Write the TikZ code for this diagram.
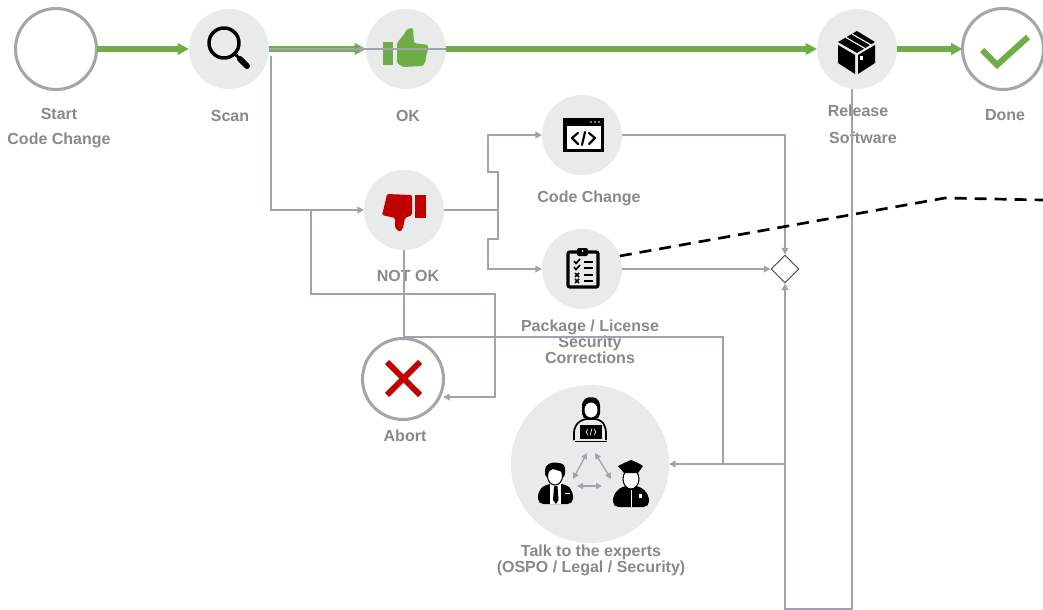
\documentclass[tikz,border=0pt]{standalone}
\usepackage{fontspec}
\setmainfont{Liberation Sans}
\usetikzlibrary{arrows.meta, positioning, calc, shapes.geometric}
\definecolor{green1}{HTML}{70AD47}
\definecolor{red1}{HTML}{C00000}
\definecolor{gray1}{HTML}{9EA3B0}
\definecolor{ring1}{HTML}{A6A6A6}
\definecolor{disc1}{HTML}{E9EBEA}
\definecolor{label1}{HTML}{898989}
\tikzset{
  disc/.style={circle, fill=disc1, inner sep=0pt, outer sep=0pt, minimum size=80*0.75pt},
  ring/.style={circle, draw=ring1, line width=2.3pt, fill=white, inner sep=0pt, outer sep=0pt, minimum size=81*0.75pt},
  caption/.style={text=label1, font=\fontsize{12}{12}\selectfont\bfseries, align=center, inner sep=0pt},
  greenline/.style={green1, line width=4pt, -{Triangle[length=8.5pt, width=8.5pt]}},
  grayline/.style={gray1, line width=1.5pt},
  grayarrow/.style={grayline, -{Triangle[length=5pt, width=5pt]}},
  talkarrow/.style={gray1, line width=1pt, {Triangle[length=4.5pt, width=4.5pt]}-{Triangle[length=4.5pt, width=4.5pt]}},
  iconline/.style={line width=1.6pt, line cap=round, line join=round}
}
\begin{document}
\begin{tikzpicture}[x=0.75pt, y=-0.75pt]
  \useasboundingbox (0,0) rectangle (1043,610);

  % stations
  \node[ring] (start) at (56,49) {};
  \node[disc] (scan) at (229,49) {};
  \node[disc] (ok) at (406,49) {};
  \node[disc] (release) at (857,49) {};
  \node[ring] (done) at (1003,49) {};
  \node[disc] (notok) at (404,210) {};
  \node[disc] (codefix) at (582,135) {};
  \node[disc] (package) at (582,269) {};
  \node[ring] (abort) at (403,379) {};
  \node[disc, minimum size=158*0.75pt] (experts) at (590,464) {};
  \node[diamond, draw=black!75, line width=0.7pt, fill=white, inner sep=0pt, minimum size=28*0.75pt] (merge) at (785,269) {};

  % labels
  \node[caption] (startlabel) at (59,128) {Start\\[6.75pt]Code Change};
  \node[caption] (scanlabel) at (230,116) {Scan};
  \node[caption] (oklabel) at (408,116) {OK};
  \node[caption] (releaselabel) at (858,111) {Release};
  \node[caption] (softwarelabel) at (863,138) {Software};
  \node[caption] (donelabel) at (1005,115) {Done};
  \node[caption] (codelabel) at (589,198) {Code Change};
  \node[caption] (notoklabel) at (408,276) {NOT OK};
  \node[caption] (packagelabel) at (590,342) {Package / License\\Security\\Corrections};
  \node[caption] (abortlabel) at (405,436) {Abort};
  \node[caption] (expertslabel) at (591,560) {Talk to the experts\\(OSPO / Legal / Security)};

  % icons
  \draw[line width=2.6pt] (224,43) circle (15);
  \draw[line width=2.2pt] (235,54) -- (240,59);
  \draw[line width=4.5pt, line cap=round] (240,59) -- (247,66);

  \fill[green1] (383,42) rectangle (393,65);
  \fill[green1, rounded corners=1pt] (397,43) -- (405,33) -- (407,29) -- (413,28) -- (414,43) -- (428,45) -- (428,50) -- (426,56) -- (426,60) -- (423,66) -- (403,67) -- (397,63) -- cycle;

  \fill[red1] (415,195) rectangle (426,218);
  \fill[red1, rounded corners=1pt] (412,195) -- (387,194) -- (385,203) -- (382,215) -- (395,218) -- (395,228) -- (400,232) -- (403,228) -- (405,218) -- (412,215) -- cycle;

  \fill (838,42) -- (857,31) -- (875,42) -- (857,53) -- cycle;
  \fill (838,45) -- (855,55) -- (855,74) -- (838,63) -- cycle;
  \fill (858,55) -- (875,45) -- (875,63) -- (858,74) -- cycle;
  \draw[white, line width=0.8pt] (846,37.5) -- (865,48.5) (852,34) -- (871,45);
  \fill[white] (860,56) rectangle (863,60);

  \draw[green1, line width=4.5pt] (982,50) -- (997,65) -- (1028,37);
  \draw[red1, line width=4.5pt] (387,362) -- (420,395) (420,362) -- (387,395);

  \fill (563,118) rectangle (604,152);
  \fill[white] (567,126) rectangle (601,149);
  \fill[white] (591,122) circle (0.9) (595,122) circle (0.9) (599,122) circle (0.9);
  \draw[iconline] (578,133) -- (572,138) -- (578,144) (589,133) -- (595,138) -- (589,144) (585,132) -- (582,145);

  \draw[line width=2.4pt, rounded corners=1.5pt] (568,252) rectangle (598,287);
  \fill[rounded corners=1.5pt] (577,248) rectangle (588,256);
  \fill[white] (582.5,251) circle (1);
  \draw[line width=1.7pt] (584,262) -- (593,262) (584,268) -- (593,268) (584,275) -- (593,275) (584,281) -- (593,281);
  \draw[line width=1.2pt] (574,261) -- (576,263.5) -- (580,259) (574,267) -- (576,269.5) -- (580,265);
  \draw[line width=1.2pt] (575,273) -- (579,277) (579,273) -- (575,277) (575,279) -- (579,283) (579,279) -- (575,283);

  % developer
  \fill[rounded corners=4pt] (582,419) -- (582,400) -- (591,396) -- (600,400) -- (600,419) -- cycle;
  \fill[white] (591,410) ellipse (6.5 and 7.5);
  \draw[line width=1.3pt, rounded corners=4pt] (574,440) -- (574,427) -- (582,419) -- (600,419) -- (606,427) -- (606,440);
  \fill (580,425) rectangle (602,439);
  \draw[white, line width=0.5pt] (588,429) -- (586,432) -- (588,435) (594,429) -- (596,432) -- (594,435) (592,428.5) -- (590,435.5);
  \draw[line width=1pt] (575,441.5) -- (607,441.5);

  % lawyer
  \fill[rounded corners=4pt] (538,504) -- (538,491) -- (546,484) -- (566,484) -- (573,491) -- (573,504) -- cycle;
  \fill[white] (550,484) -- (561,484) -- (561,504) -- (550,504) -- cycle;
  \fill (554,486) -- (557.5,486) -- (558.5,500) -- (556,504) -- (553,500) -- cycle;
  \fill[white] (565,493) rectangle (570,494);
  \fill[rounded corners=3pt] (545,478) -- (545,466) -- (552,462) -- (565,464) -- (565,478) -- cycle;
  \draw[fill=white, line width=0.8pt] (555,476) ellipse (7.5 and 9);
  \fill (547,472) -- (550,465) -- (562,465) -- (563,472) -- (553,469) -- cycle;

  % officer
  \fill[rounded corners=4pt] (613,507) -- (613,495) -- (622,486) -- (640,486) -- (649,495) -- (649,507) -- cycle;
  \draw[white, line width=0.6pt] (631,490) -- (631,507);
  \fill[white] (639,494) rectangle (642,498);
  \draw[fill=white, line width=0.8pt] (631,479) ellipse (8 and 10);
  \fill (618,466) -- (624,463) -- (631,460) -- (638,463) -- (643,466) -- (638,473) -- (624,473) -- cycle;

  \draw[talkarrow] (587,453) -- (573,479);
  \draw[talkarrow] (595,453) -- (611,479);
  \draw[talkarrow] (577,486) -- (602,486);

  % main line
  \draw[greenline] (start) -- (scan);
  \draw[greenline] (scan) -- (ok);
  \draw[greenline] (ok) -- (release);
  \draw[greenline] (release) -- (done);

  % rework lines
  \coordinate (scandrop) at (271,56);
  \coordinate (okexit) at (ok.east);
  \coordinate (abortbranch) at (311,210);
  \coordinate (fork) at (498,210);
  \coordinate (forkup) at (488,172);
  \coordinate (forkdown) at (488,239);
  \coordinate (abortright) at (495,294);
  \coordinate (abortin) at (443,397);
  \coordinate (expertsright) at (723,337);
  \coordinate (expertsjoin) at (723,464);
  \coordinate (codecorner) at (785,135);
  \coordinate (backjoin) at (785,464);
  \coordinate (backcorner) at (852,609);
  \coordinate (backup) at (785,609);

  \draw[grayline] (scan.east) -- (okexit);
  \draw[grayarrow] (scan.east) -- (ok.west);
  \draw[grayarrow] (scandrop) |- (notok.west);
  \draw[grayarrow] (abortbranch) |- (abortright) |- (abortin);
  \draw[grayline] (notok.south) |- (expertsright) -- (expertsjoin);
  \draw[grayline] (notok.east) -- (fork);
  \draw[grayarrow] (fork) |- (forkup) |- (codefix.west);
  \draw[grayarrow] (fork) |- (forkdown) |- (package.west);
  \draw[grayarrow] (codefix.east) -| (merge.north);
  \draw[grayarrow] (package.east) -- (merge.west);
  \draw[grayarrow] (backjoin) -- (experts.east);
  \draw[grayarrow] (release.south -| backcorner) -- (backcorner) -- (backup) -- (merge.south);

  % dashed line
  \coordinate (dashbend) at (945,198);
  \coordinate (dashend) at (1043,200);
  \draw[black, line width=2pt, dash pattern=on 9pt off 6pt] (package.19) -- (dashbend) -- (dashend);
\end{tikzpicture}
\end{document}
